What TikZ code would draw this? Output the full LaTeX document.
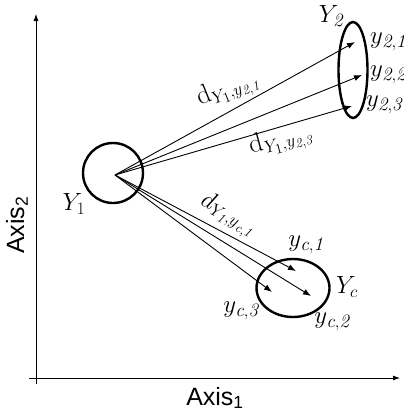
\documentclass[tikz,border=0pt]{standalone}
\usepackage{fontspec}
\newfontfamily\axisfont{Liberation Sans}
\usetikzlibrary{arrows.meta,shapes.geometric}
\begin{document}
\begin{tikzpicture}[x=1pt,y=-1pt,
  axisline/.style={line width=0.8pt,-{Latex[length=7pt,width=5pt]}},
  distarrow/.style={line width=0.9pt,-{Latex[length=8pt,width=6pt]}},
  cluster/.style={draw,line width=2.4pt,inner sep=0pt},
  axislabel/.style={font=\axisfont\fontsize{25}{28}\selectfont},
  lbl/.style={font=\fontsize{27}{30}\selectfont,inner sep=0pt}]
\useasboundingbox (0,0) rectangle (404,416);
% axes
\coordinate (ox) at (29,378);
\coordinate (xe) at (400,378);
\coordinate (oy) at (36,384);
\coordinate (ye) at (36,14);
\draw[axisline] (ox) -- (xe);
\draw[axisline] (oy) -- (ye);
\node[axislabel] (ax1) at (215,398) {Axis\textsubscript{1}};
\node[axislabel,rotate=90] (ax2) at (17,225) {Axis\textsubscript{2}};
% clusters
\node[cluster,circle,minimum size=60pt] (Y1) at (113,173) {};
\node[cluster,ellipse,minimum width=29pt,minimum height=96pt] (Y2) at (353,70) {};
\node[cluster,ellipse,minimum width=73pt,minimum height=58pt] (Yc) at (293,288) {};
% origin and tips
\coordinate (c1) at (115,175);
\coordinate (t21) at (355,42);
\coordinate (t22) at (362,75);
\coordinate (t23) at (352,106);
\coordinate (tc1) at (296,271);
\coordinate (tc2) at (311,296);
\coordinate (tc3) at (272,292);
\draw[distarrow] (c1) -- (t21);
\draw[distarrow] (c1) -- (t22);
\draw[distarrow] (c1) -- (t23);
\draw[distarrow] (c1) -- (tc1);
\draw[distarrow] (c1) -- (tc2);
\draw[distarrow] (c1) -- (tc3);
% labels
\node[lbl] (lY1) at (74,204) {$Y_1$};
\node[lbl] (lY2) at (331,16) {$Y_{\mathit{2}}$};
\node[lbl] (lYc) at (347,287) {$Y_c$};
\node[lbl,anchor=west] (l21) at (370,42) {$y_{\mathit{2,1}}$};
\node[lbl,anchor=west] (l22) at (370,75) {$y_{\mathit{2,2}}$};
\node[lbl,anchor=west] (l23) at (366,105) {$y_{\mathit{2,3}}$};
\node[lbl] (lc1) at (306,245) {$y_{\mathit{c,1}}$};
\node[lbl] (lc2) at (332,322) {$y_{\mathit{c,2}}$};
\node[lbl] (lc3) at (241,311) {$y_{\mathit{c,3}}$};
\node[lbl,rotate=22] (d21) at (228,90) {$\mathrm{d}_{Y_1,y_{\mathit{2,1}}}$};
\node[lbl,rotate=15] (d23) at (281,141) {$\mathrm{d}_{Y_1,y_{\mathit{2,3}}}$};
\node[lbl,rotate=-28] (dc1) at (228,215) {$d_{Y_{\mathit{1}},y_{\mathit{c,1}}}$};
\end{tikzpicture}
\end{document}
